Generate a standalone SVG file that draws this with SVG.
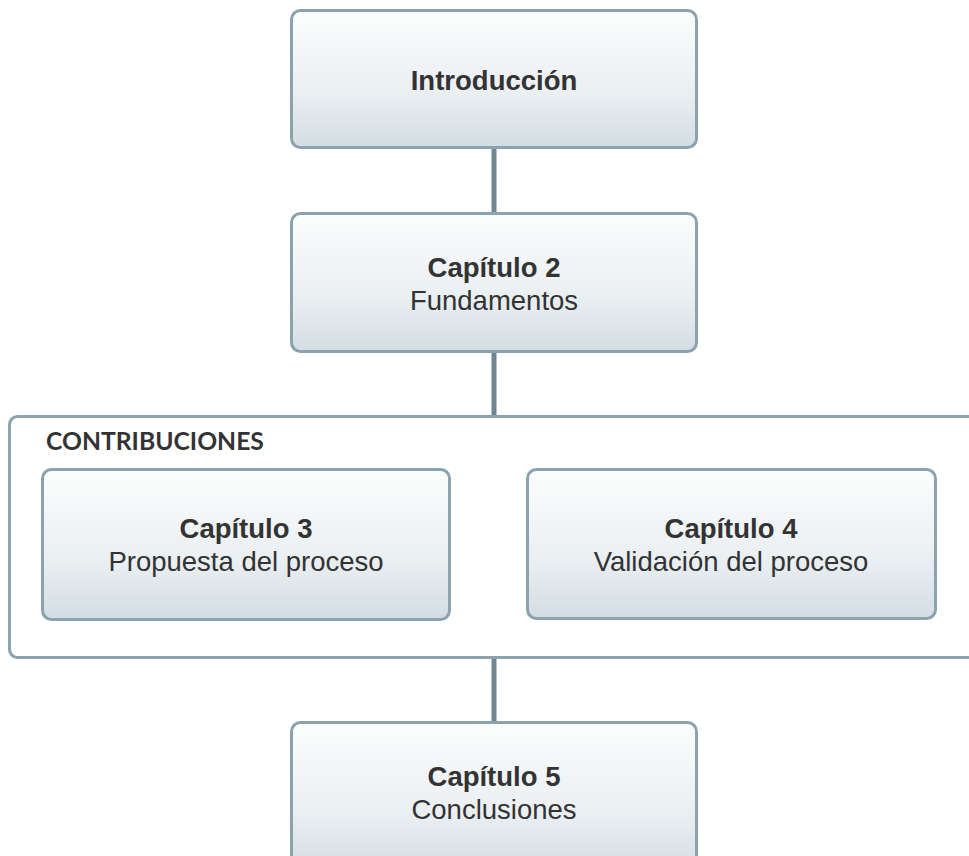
<svg xmlns="http://www.w3.org/2000/svg" width="969" height="856" viewBox="0 0 969 856">
<defs>
<linearGradient id="g" x1="0" y1="0" x2="0" y2="1">
<stop offset="0" stop-color="#fcfdfd"/>
<stop offset="0.6" stop-color="#eaeff2"/>
<stop offset="1" stop-color="#d3dde3"/>
</linearGradient>
<style>
.box{fill:url(#g);stroke:#8ba3af;stroke-width:3}
.cont{fill:#fff;stroke:#8ba3af;stroke-width:3}
.conn{stroke:#6f8792;stroke-width:5;fill:none}
text{font-family:"Liberation Sans",Arial,sans-serif;font-size:27.5px;fill:#333;text-anchor:middle}
.b{font-weight:bold}
.lbl{font-family:Lato,"Liberation Sans",sans-serif;font-weight:bold;font-size:24.7px;text-anchor:start}
</style>
</defs>
<rect width="969" height="856" fill="#fff"/>
<g id="connectors">
<line class="conn" x1="494" y1="148" x2="494" y2="213"/>
<line class="conn" x1="494" y1="352" x2="494" y2="416"/>
<line class="conn" x1="494" y1="658" x2="494" y2="722"/>
</g>
<g id="contribuciones">
<rect class="cont" x="9.5" y="416.5" width="990" height="241" rx="8"/>
<text class="lbl" x="46" y="450">CONTRIBUCIONES</text>
</g>
<g id="introduccion">
<rect class="box" x="291.5" y="10.5" width="405" height="137" rx="9"/>
<text class="b" x="494" y="90">Introducción</text>
</g>
<g id="cap2">
<rect class="box" x="291.5" y="213.5" width="405" height="138" rx="9"/>
<text class="b" x="494" y="277">Capítulo 2</text>
<text x="494" y="310">Fundamentos</text>
</g>
<g id="cap3">
<rect class="box" x="42.5" y="469.5" width="407" height="150" rx="9"/>
<text class="b" x="246" y="538">Capítulo 3</text>
<text x="246" y="571">Propuesta del proceso</text>
</g>
<g id="cap4">
<rect class="box" x="527.5" y="469.5" width="408" height="149" rx="9"/>
<text class="b" x="731" y="538">Capítulo 4</text>
<text x="731" y="571">Validación del proceso</text>
</g>
<g id="cap5">
<rect class="box" x="291.5" y="722.5" width="405" height="150" rx="9"/>
<text class="b" x="494" y="786">Capítulo 5</text>
<text x="494" y="819">Conclusiones</text>
</g>
</svg>
